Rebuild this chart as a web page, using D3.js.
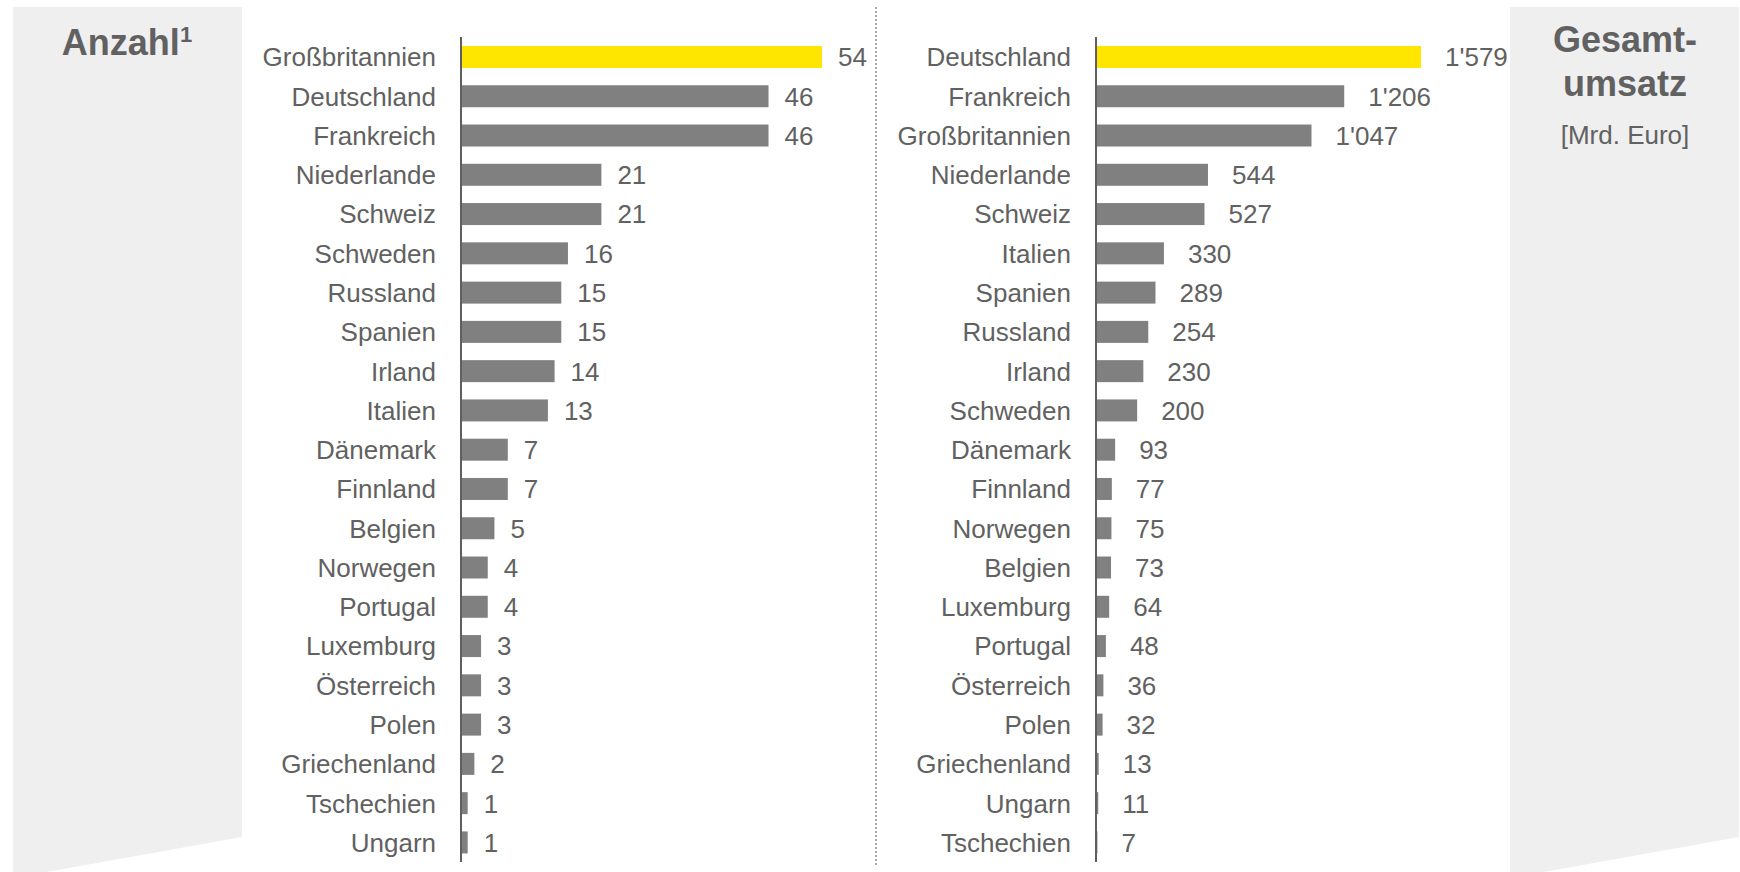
<!DOCTYPE html>
<html>
<head>
<meta charset="utf-8">
<script src="https://cdn.jsdelivr.net/npm/d3@7"></script>
<style>
  body { margin: 0; background: #fff; }
  text { font-family: "Liberation Sans", Arial, sans-serif; }
</style>
</head>
<body>
<div id="chart"></div>
<script>
// Anzahl (left panel)
var countCountries = ["Großbritannien", "Deutschland", "Frankreich", "Niederlande", "Schweiz", "Schweden",
    "Russland", "Spanien", "Irland", "Italien", "Dänemark", "Finnland", "Belgien", "Norwegen",
    "Portugal", "Luxemburg", "Österreich", "Polen", "Griechenland", "Tschechien", "Ungarn"];
var countValues = [54, 46, 46, 21, 21, 16, 15, 15, 14, 13, 7, 7, 5, 4, 4, 3, 3, 3, 2, 1, 1];

// Gesamtumsatz in Mrd. Euro (right panel)
var salesCountries = ["Deutschland", "Frankreich", "Großbritannien", "Niederlande", "Schweiz", "Italien",
    "Spanien", "Russland", "Irland", "Schweden", "Dänemark", "Finnland", "Norwegen", "Belgien",
    "Luxemburg", "Portugal", "Österreich", "Polen", "Griechenland", "Ungarn", "Tschechien"];
var salesValues = [1579, 1206, 1047, 544, 527, 330, 289, 254, 230, 200, 93, 77, 75, 73, 64, 48, 36, 32, 13, 11, 7];

var W = 1740, H = 872;
var textColor = "#616161", barColor = "#808080", highlight = "#ffe600", panelColor = "#efefef";

var svg = d3.select("#chart").append("svg")
    .attr("width", W)
    .attr("height", H);

// grey side panels
svg.append("polygon")
    .attr("points", [[13, 7], [242, 7], [242, 837], [13, 878]].join(" "))
    .attr("fill", panelColor);
svg.append("polygon")
    .attr("points", [[1510, 7], [1739, 7], [1739, 837], [1510, 878]].join(" "))
    .attr("fill", panelColor);

// panel titles
var t1 = svg.append("text")
    .attr("x", 127).attr("y", 55)
    .attr("text-anchor", "middle")
    .attr("fill", textColor)
    .attr("font-weight", "bold")
    .style("font-size", "36px");
t1.append("tspan").text("Anzahl");
t1.append("tspan").attr("dy", -13).style("font-size", "22px").text("1");

svg.append("text")
    .attr("x", 1625).attr("y", 52)
    .attr("text-anchor", "middle").attr("fill", textColor)
    .attr("font-weight", "bold").style("font-size", "36px")
    .text("Gesamt-");
svg.append("text")
    .attr("x", 1625).attr("y", 96)
    .attr("text-anchor", "middle").attr("fill", textColor)
    .attr("font-weight", "bold").style("font-size", "36px")
    .text("umsatz");
svg.append("text")
    .attr("x", 1625).attr("y", 144)
    .attr("text-anchor", "middle").attr("fill", textColor)
    .style("font-size", "26px")
    .text("[Mrd. Euro]");

// dotted separator
svg.append("line")
    .attr("x1", 876).attr("x2", 876)
    .attr("y1", 7).attr("y2", 866)
    .attr("stroke", "#8c8c8c")
    .attr("stroke-width", 1.5)
    .attr("stroke-dasharray", "2,2");

var fmt = d3.formatLocale({ decimal: ".", thousands: "'", grouping: [3], currency: ["", ""] }).format(",d");

function drawPanel(cats, vals, axisX, maxWidth, labelGap) {
    var data = cats.map(function (c, i) { return { name: c, value: vals[i], i: i }; });

    var y = d3.scaleBand()
        .domain(cats)
        .range([28.7, 870.7])
        .padding(0.44);

    var x = d3.scaleLinear()
        .domain([0, d3.max(vals)])
        .range([0, maxWidth]);

    var g = svg.append("g").attr("transform", "translate(" + axisX + ",0)");

    g.selectAll("rect.bar")
        .data(data)
        .enter().append("rect")
        .attr("class", "bar")
        .attr("x", 0)
        .attr("y", function (d) { return y(d.name); })
        .attr("width", function (d) { return x(d.value); })
        .attr("height", y.bandwidth())
        .attr("fill", function (d) { return d.i === 0 ? highlight : barColor; });

    g.selectAll("text.val")
        .data(data)
        .enter().append("text")
        .attr("class", "val")
        .attr("x", function (d) { return x(d.value) + labelGap; })
        .attr("y", function (d) { return y(d.name) + y.bandwidth() / 2; })
        .attr("dy", "0.36em")
        .attr("fill", textColor)
        .style("font-size", "26px")
        .text(function (d) { return fmt(d.value); });

    var ax = g.append("g")
        .call(d3.axisLeft(y).tickSize(0).tickPadding(25));
    ax.select(".domain").remove();
    ax.selectAll("text")
        .attr("fill", textColor)
        .attr("dy", "0.36em")
        .style("font-size", "26px")
        .style("font-family", "'Liberation Sans', Arial, sans-serif");

    g.append("line")
        .attr("x1", 0).attr("x2", 0)
        .attr("y1", 37).attr("y2", 862)
        .attr("stroke", "#5f5f5f")
        .attr("stroke-width", 2);
}

drawPanel(countCountries, countValues, 461, 361, 16);
drawPanel(salesCountries, salesValues, 1096, 325, 24);
</script>
</body>
</html>
